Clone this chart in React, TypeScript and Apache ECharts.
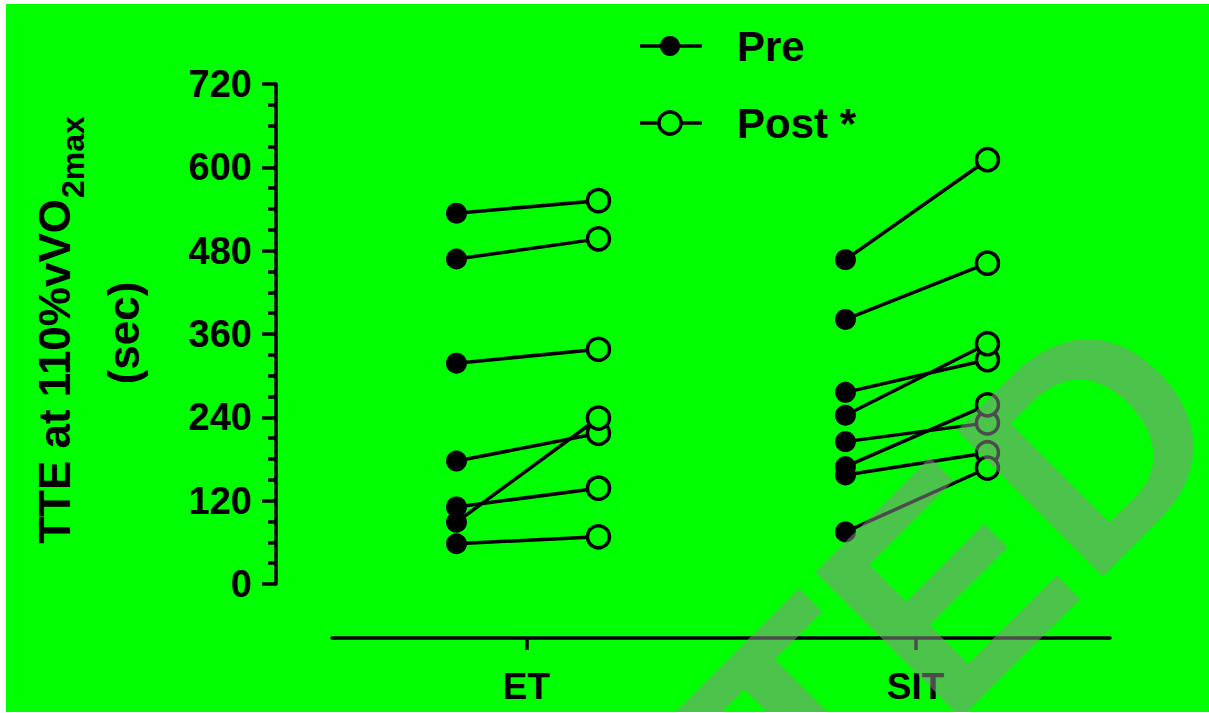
import React, { useEffect, useRef } from "react";
import * as echarts from "echarts";

const groups = ["ET", "SIT"];
const etPre = [534, 468, 318, 177, 111, 89, 58];
const etPost = [552, 497, 338, 217, 138, 239, 68];
const sitPre = [467, 381, 276, 243, 205, 169, 157, 75];
const sitPost = [611, 462, 323, 346, 232, 258, 189, 167];
const legendNames = ["Pre", "Post *"];
const yMin = 0;
const yMax = 720;
const yInterval = 120;
const yTitleMain = "TTE at 110%vVO";
const yTitleSub = "2max";
const yTitleUnit = "(sec)";
const watermark = "TED";

const GREEN = "#00ff00";
const FONT = "Arial, 'Liberation Sans', sans-serif";

export default function App() {
  const ref = useRef<HTMLDivElement>(null);
  useEffect(() => {
    if (!ref.current) return;
    const chart = echarts.init(ref.current, null, { renderer: "svg" });
    const preOff = -0.18;
    const postOff = 0.185;
    const series: any[] = [];
    const groupsData = [
      { pre: etPre, post: etPost },
      { pre: sitPre, post: sitPost },
    ];
    groupsData.forEach((g, gi) => {
      const c = gi + 0.5;
      g.pre.forEach((v, i) => {
        series.push({
          type: "line",
          xAxisIndex: 1,
          yAxisIndex: 0,
          symbol: "circle",
          lineStyle: { color: "#000", width: 3.5 },
          data: [
            { value: [c + preOff, v], symbolSize: 21, itemStyle: { color: "#000", borderWidth: 0 } },
            {
              value: [c + postOff, g.post[i]],
              symbolSize: 22,
              itemStyle: { color: GREEN, borderColor: "#000", borderWidth: 3.5 },
            },
          ],
          z: 3,
        });
      });
    });

    const option: any = {
      animation: false,
      backgroundColor: GREEN,
      grid: { left: 326, right: 99, top: 80, bottom: 128 },
      xAxis: [
        {
          type: "category",
          data: groups,
          position: "bottom",
          offset: 54,
          boundaryGap: true,
          axisLine: { show: true, onZero: false, lineStyle: { color: "#000", width: 3.5 } },
          axisTick: { show: true, alignWithLabel: true, length: 12, lineStyle: { color: "#000", width: 3.5 } },
          axisLabel: { color: "#000", fontSize: 37, fontWeight: "bold", fontFamily: FONT, margin: 30 },
          splitLine: { show: false },
        },
        { type: "value", min: 0, max: 2, show: false, axisLine: { onZero: false } },
      ],
      yAxis: {
        type: "value",
        min: yMin,
        max: yMax,
        interval: yInterval,
        offset: 56,
        axisLine: { show: true, onZero: false, lineStyle: { color: "#000", width: 3.5 } },
        axisTick: { show: true, length: 14, lineStyle: { color: "#000", width: 3.5 } },
        minorTick: { show: true, splitNumber: 4, length: 8, lineStyle: { color: "#000", width: 3.5 } },
        splitLine: { show: false },
        minorSplitLine: { show: false },
        axisLabel: { color: "#000", fontSize: 38, fontWeight: "bold", fontFamily: FONT, margin: 24 },
      },
      series,
      graphic: [
        // legend
        { type: "line", shape: { x1: 634, y1: 42, x2: 696, y2: 42 }, style: { stroke: "#000", lineWidth: 3.5 }, z: 10 },
        { type: "circle", shape: { cx: 664, cy: 42, r: 10 }, style: { fill: "#000" }, z: 11 },
        {
          type: "text",
          x: 731,
          y: 42,
          style: { text: legendNames[0], fontSize: 42, fontWeight: "bold", fontFamily: FONT, fill: "#000", align: "left", verticalAlign: "middle" },
          z: 10,
        },
        { type: "line", shape: { x1: 634, y1: 119, x2: 696, y2: 119 }, style: { stroke: "#000", lineWidth: 3.5 }, z: 10 },
        { type: "circle", shape: { cx: 664, cy: 119, r: 11 }, style: { fill: GREEN, stroke: "#000", lineWidth: 3.5 }, z: 11 },
        {
          type: "text",
          x: 731,
          y: 119,
          style: { text: legendNames[1], fontSize: 42, fontWeight: "bold", fontFamily: FONT, fill: "#000", align: "left", verticalAlign: "middle" },
          z: 10,
        },
        // y axis title
        {
          type: "group",
          x: 48,
          y: 195,
          rotation: Math.PI / 2,
          children: [
            {
              type: "text",
              x: 0,
              y: 0,
              style: { text: yTitleMain, fontSize: 44, fontWeight: "bold", fontFamily: FONT, fill: "#000", align: "right", verticalAlign: "middle" },
            },
            {
              type: "text",
              x: 1,
              y: 19,
              style: { text: yTitleSub, fontSize: 32, fontWeight: "bold", fontFamily: FONT, fill: "#000", align: "left", verticalAlign: "middle" },
            },
          ],
        },
        {
          type: "text",
          x: 117,
          y: 329,
          rotation: Math.PI / 2,
          style: { text: yTitleUnit, fontSize: 44, fontWeight: "bold", fontFamily: FONT, fill: "#000", align: "center", verticalAlign: "middle" },
        },
        // watermark
        {
          type: "text",
          x: 950,
          y: 572,
          rotation: Math.PI / 4,
          silent: true,
          z: 100,
          style: {
            text: watermark,
            fontSize: 300,
            fontWeight: "bold",
            fontFamily: FONT,
            fill: "rgba(143,143,143,0.53)",
            align: "center",
            verticalAlign: "middle",
          },
        },
      ],
    };
    chart.setOption(option);
    return () => chart.dispose();
  }, []);

  return (
    <div style={{ position: "fixed", left: 0, top: 0, width: 1209, height: 713, background: "#fff" }}>
      <div ref={ref} style={{ position: "absolute", left: 6, top: 4, width: 1203, height: 708 }} />
    </div>
  );
}
